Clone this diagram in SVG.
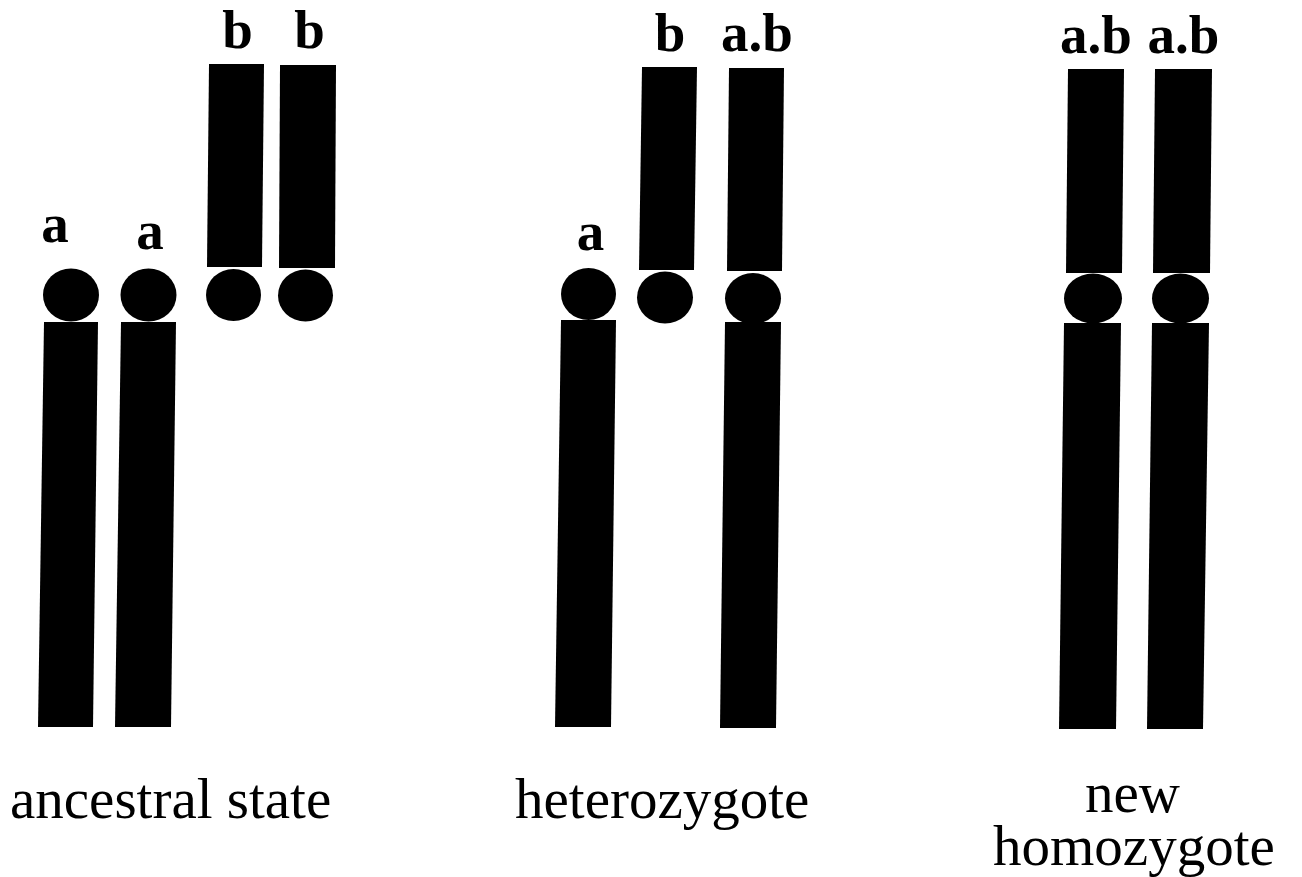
<svg xmlns="http://www.w3.org/2000/svg" width="1302" height="877" viewBox="0 0 1302 877">
  <style>
    .arm { fill: #000; }
    .cen { fill: #000; }
    .allele { font-family: "Liberation Serif", "Times New Roman", serif; font-weight: bold; font-size: 55px; fill: #000; text-anchor: middle; }
    .caption { font-family: "Liberation Serif", "Times New Roman", serif; font-size: 57px; fill: #000; }
  </style>
  <rect x="0" y="0" width="1302" height="877" fill="#fff"/>

  <!-- Ancestral state: two "a" chromosomes and two "b" chromosomes -->
  <g id="anc-a1">
    <text class="allele" x="55" y="242">a</text>
    <ellipse class="cen" cx="71" cy="295" rx="28" ry="26.5"/>
    <polygon class="arm" points="44,322 98,322 93,727 38,727"/>
  </g>
  <g id="anc-a2">
    <text class="allele" x="150" y="249">a</text>
    <ellipse class="cen" cx="148.5" cy="295" rx="28" ry="26.5"/>
    <polygon class="arm" points="121,322 176,322 171,727 115,727"/>
  </g>
  <g id="anc-b1">
    <text class="allele" x="237.5" y="48">b</text>
    <polygon class="arm" points="209,64 264,64 262,267 207,267"/>
    <ellipse class="cen" cx="233.5" cy="295" rx="27.5" ry="26"/>
  </g>
  <g id="anc-b2">
    <text class="allele" x="309.5" y="48">b</text>
    <polygon class="arm" points="280,65 336,65 335,268 279,268"/>
    <ellipse class="cen" cx="305.5" cy="295.5" rx="27.5" ry="26"/>
  </g>

  <!-- Heterozygote -->
  <g id="het-a">
    <text class="allele" x="590.5" y="250">a</text>
    <ellipse class="cen" cx="588.5" cy="294" rx="27.5" ry="26"/>
    <polygon class="arm" points="561,320 616,320 611,727 555,727"/>
  </g>
  <g id="het-b">
    <text class="allele" x="670" y="51">b</text>
    <polygon class="arm" points="642,67 697,67 694,270 639,270"/>
    <ellipse class="cen" cx="665" cy="297.5" rx="28" ry="26"/>
  </g>
  <g id="het-ab">
    <text class="allele" x="757" y="51">a.b</text>
    <polygon class="arm" points="729,68 784,68 782,271 727,271"/>
    <ellipse class="cen" cx="753" cy="298.5" rx="28" ry="25.5"/>
    <polygon class="arm" points="725,322 781,322 776,728 720,728"/>
  </g>

  <!-- New homozygote: two fused a.b chromosomes -->
  <g id="hom-ab1">
    <text class="allele" x="1096" y="53">a.b</text>
    <polygon class="arm" points="1068,69 1124,69 1122,273 1066,273"/>
    <ellipse class="cen" cx="1093" cy="298.5" rx="29" ry="25"/>
    <polygon class="arm" points="1064,323 1121,323 1116,729 1059,729"/>
  </g>
  <g id="hom-ab2">
    <text class="allele" x="1183.5" y="53">a.b</text>
    <polygon class="arm" points="1155,69 1212,69 1210,273 1153,273"/>
    <ellipse class="cen" cx="1180.5" cy="298.5" rx="28.5" ry="25"/>
    <polygon class="arm" points="1152,323 1209,323 1203,729 1147,729"/>
  </g>

  <!-- Captions -->
  <g id="captions">
    <text class="caption" x="10" y="818">ancestral state</text>
    <text class="caption" x="515" y="818">heterozygote</text>
    <text class="caption" x="1085" y="812">new</text>
    <text class="caption" x="993" y="865">homozygote</text>
  </g>
</svg>
